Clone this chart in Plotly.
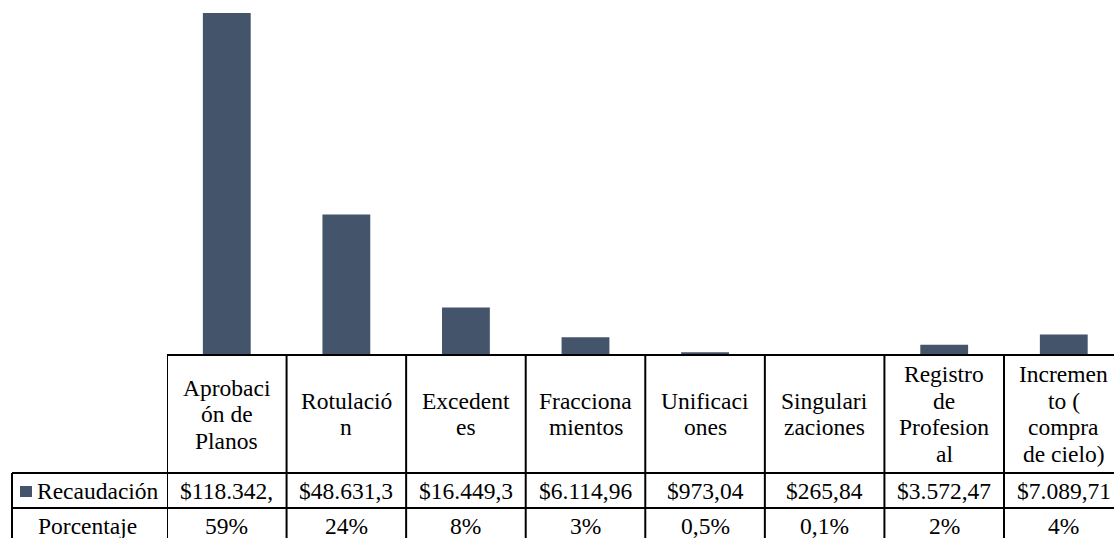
import plotly.graph_objects as go

# ---------------- data ----------------
categories = [
    "Aprobaci\nón de\nPlanos",
    "Rotulació\nn",
    "Excedent\nes",
    "Fracciona\nmientos",
    "Unificaci\nones",
    "Singulari\nzaciones",
    "Registro\nde\nProfesion\nal",
    "Incremen\nto (\ncompra\nde cielo)",
]
recaudacion = [118342.0, 48631.3, 16449.3, 6114.96, 973.04, 265.84, 3572.47, 7089.71]
recaudacion_labels = ["$118.342,", "$48.631,3", "$16.449,3", "$6.114,96",
                      "$973,04", "$265,84", "$3.572,47", "$7.089,71"]
porcentaje_labels = ["59%", "24%", "8%", "3%", "0,5%", "0,1%", "2%", "4%"]
row_titles = ["Recaudación", "Porcentaje"]

# ---------------- layout constants ----------------
W, H = 1114, 538
BAR_COLOR = "#44546A"
FONT = "Liberation Serif, Times New Roman, Times, serif"
FS = 23.5

# positions measured in the reference (window pixels)
x_left_px = 167          # left edge of first table column
x_lab_px = 12            # left edge of row-title column
y_table_top = 355
y_row1 = 473
y_row2 = 508
y_bar_top = 13
x_max = 7.42             # visible part of the last column


def py(px):
    return 1 - px / H


def px_x(px):
    return px / W


idx = list(range(len(categories)))

fig = go.Figure()
fig.add_trace(go.Bar(
    x=idx, y=recaudacion, marker=dict(color=BAR_COLOR, line=dict(width=0)),
    name=row_titles[0], showlegend=False, hoverinfo="skip",
))

fig.update_layout(
    width=W, height=H,
    margin=dict(l=0, r=0, t=0, b=0),
    paper_bgcolor="white", plot_bgcolor="white",
    bargap=0.6,
    xaxis=dict(domain=[px_x(x_left_px), 1], range=[-0.5, x_max],
               showticklabels=False, showgrid=False, zeroline=False,
               showline=False, ticks=""),
    yaxis=dict(domain=[py(y_table_top), 1],
               range=[0, recaudacion[0] * y_table_top / (y_table_top - y_bar_top)],
               visible=False),
    font=dict(family=FONT, size=FS, color="black"),
)

LW = 2
line = dict(color="black", width=LW)
fig.add_shape(type="line", xref="x", yref="paper", x0=-0.5, x1=x_max,
              y0=py(y_table_top), y1=py(y_table_top), line=line)
for yy in (y_row1, y_row2):
    fig.add_shape(type="line", xref="paper", yref="paper", x0=px_x(x_lab_px), x1=1,
                  y0=py(yy), y1=py(yy), line=line)
for k in range(len(categories)):
    fig.add_shape(type="line", xref="x", yref="paper", x0=k - 0.5, x1=k - 0.5,
                  y0=0, y1=py(y_table_top), line=line)
fig.add_shape(type="line", xref="paper", yref="paper", x0=px_x(x_lab_px), x1=px_x(x_lab_px),
              y0=0, y1=py(y_row1), line=line)

# legend key
fig.add_shape(type="rect", xref="paper", yref="paper",
              x0=px_x(20), x1=px_x(32), y0=py(497), y1=py(486),
              fillcolor=BAR_COLOR, line=dict(width=0))

hdr_center = py((y_table_top + y_row1) / 2)
spacing = 26.5
for i, cat in enumerate(categories):
    lines = cat.split("\n")
    n = len(lines)
    for j, ln in enumerate(lines):
        fig.add_annotation(x=i, y=hdr_center, xref="x", yref="paper", text=ln,
                           showarrow=False, xanchor="center", yanchor="middle",
                           yshift=((n - 1) / 2 - j) * spacing,
                           font=dict(family=FONT, size=FS, color="black"))

row1_c = py((y_row1 + y_row2) / 2)
row2_c = py(526)
for i in idx:
    fig.add_annotation(x=i, y=row1_c, xref="x", yref="paper", text=recaudacion_labels[i],
                       showarrow=False, xanchor="center", yanchor="middle",
                       font=dict(family=FONT, size=FS, color="black"))
    fig.add_annotation(x=i, y=row2_c, xref="x", yref="paper", text=porcentaje_labels[i],
                       showarrow=False, xanchor="center", yanchor="middle",
                       font=dict(family=FONT, size=FS, color="black"))

fig.add_annotation(x=px_x(35), y=row1_c, xref="paper", yref="paper", text=row_titles[0],
                   showarrow=False, xanchor="left", yanchor="middle",
                   font=dict(family=FONT, size=FS, color="black"))
fig.add_annotation(x=px_x(87), y=row2_c, xref="paper", yref="paper", text=row_titles[1],
                   showarrow=False, xanchor="center", yanchor="middle",
                   font=dict(family=FONT, size=FS, color="black"))

fig.write_html(
    "out.html",
    config={"displayModeBar": False},
    post_script="document.body.style.margin='0';document.body.style.overflow='hidden';",
)
